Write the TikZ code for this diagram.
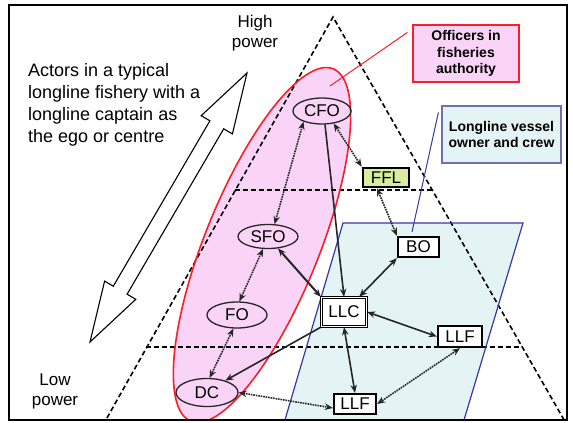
\documentclass[tikz,border=0pt]{standalone}
\usepackage{fontspec}
\setmainfont{Liberation Sans}
\usetikzlibrary{arrows.meta,shapes.geometric,calc}
\definecolor{pinkfill}{RGB}{249,212,246}
\definecolor{cyanfill}{RGB}{228,244,244}
\definecolor{vblue}{RGB}{55,55,165}
\definecolor{boxblue}{RGB}{110,110,185}
\definecolor{ffl}{RGB}{214,238,158}
\definecolor{redl}{RGB}{250,30,40}
\begin{document}
\begin{tikzpicture}[x=1pt,y=-1pt,
  >={Stealth[length=8pt,width=6.5pt]},
  lbl/.style={font=\fontsize{17}{20}\selectfont},
  actorE/.style={ellipse,draw=black!85,line width=1.3pt,inner sep=0pt,lbl},
  actorB/.style={rectangle,draw=black,line width=2.3pt,fill=white,inner sep=0pt,lbl},
  link/.style={draw=black!85,line width=1.6pt},
  dlink/.style={draw=black!85,line width=1.6pt,dash pattern=on 1.6pt off 0.9pt},
  tri/.style={draw=black,line width=1.6pt,dash pattern=on 5pt off 3pt},
  legbox/.style={rectangle,inner sep=0pt,align=center,font=\fontsize{14}{16.5}\selectfont\bfseries}
]
\useasboundingbox (0,0) rectangle (573,423);
\begin{scope}
  \clip (10,6) rectangle (566,419);
  \fill[cyanfill] (343,223) -- (523,223) -- (461,430) -- (282,430) -- cycle;
  \fill[pinkfill,rotate around={68:(262,245)}] (262,245) ellipse (190pt and 57pt);
  \draw[tri] (103,425) -- (333,17) -- (567,425);
  \draw[tri] (235,190) -- (432,190);
  \draw[tri] (146,347) -- (522,347);
  \draw[vblue,line width=1.2pt] (282,430) -- (343,223) -- (523,223) -- (461,430);
  \draw[redl,line width=1.6pt,rotate around={68:(262,245)}] (262,245) ellipse (190pt and 57pt);
\end{scope}
\draw[line width=2pt] (9,5) rectangle (567,420);
% big double arrow
\draw[line width=1.1pt,line join=miter] (247,73) -- (232.4,133.9) -- (223.7,128.8) -- (127.1,294.2) -- (135.8,299.3) -- (90,342) -- (104.6,281.1) -- (113.3,286.2) -- (209.9,120.8) -- (201.2,115.7) -- cycle;
% texts
\node[align=left,anchor=north west,inner sep=0pt,font=\fontsize{18}{22}\selectfont] (actors) at (28,63) {Actors in a typical\\longline fishery with a\\longline captain as\\the ego or centre};
\node[align=center,anchor=north,inner sep=0pt,lbl] (high) at (255,14.6) {High\\power};
\node[align=center,anchor=north,inner sep=0pt,font=\fontsize{17}{19.5}\selectfont] (low) at (55,374) {Low\\power};
% legend boxes
\node[legbox,draw=redl,line width=1.2pt,fill=pinkfill,minimum width=106pt,minimum height=57pt] (offbox) at (466,53.5) {Officers in\\fisheries\\authority};
\node[legbox,draw=boxblue,line width=1.2pt,fill=cyanfill,minimum width=119pt,minimum height=57pt] (vesbox) at (501.5,134.5) {Longline vessel\\owner and crew};
% actors
\node[actorE,minimum width=58pt,minimum height=26pt] (CFO) at (322,111) {CFO};
\node[actorB,fill=ffl,line width=2.6pt,minimum width=46pt,minimum height=19pt] (FFL) at (386,177.5) {FFL};
\node[actorE,minimum width=60pt,minimum height=24pt] (SFO) at (268,236.5) {SFO};
\node[actorB,minimum width=41pt,minimum height=20pt] (BO) at (418.5,247) {BO};
\node[actorB,line width=1.4pt,double=white,double distance=0.8pt,minimum width=45pt,minimum height=29pt] (LLC) at (344,312) {LLC};
\node[actorE,minimum width=60pt,minimum height=26pt] (FO) at (237,315) {FO};
\node[actorB,minimum width=44pt,minimum height=21pt] (LLFr) at (460,336.5) {LLF};
\node[actorE,minimum width=62pt,minimum height=28pt] (DC) at (207,392.5) {DC};
\node[actorB,minimum width=42pt,minimum height=20pt] (LLFb) at (355,404) {LLF};
% pointers
\draw[redl,line width=1pt] ([xshift=-5pt,yshift=-8pt]offbox.north west) -- (330,86) coordinate (offend);
\draw[vblue,line width=1pt] ([xshift=-3pt,yshift=-7pt]vesbox.north west) -- ([xshift=-6.5pt,yshift=4pt]BO.north);
% links
\draw[dlink,<->] (CFO.210) -- (SFO.62);
\draw[link,->] ([xshift=3pt]CFO.south) -- (LLC.north);
\draw[dlink,<->] (CFO.-47) -- (FFL.north west);
\draw[dlink,<->] ([xshift=-9pt]FFL.south) -- (BO.north west);
\draw[link,<->] (BO.south west) -- ([xshift=-8pt]LLC.north east);
\draw[link,<->,line width=2pt] (SFO.-50) -- (LLC.north west);
\draw[dlink,<->] (SFO.-112) -- (FO.80);
\draw[link,->] (LLC.south west) -- (DC.33);
\draw[dlink,<->] (FO.-105) -- (DC.80);
\draw[link,<->] (LLC.east) -- (LLFr.west);
\draw[link,<->] (LLC.south) -- (LLFb.north);
\draw[dlink,<->] (LLFr.south) -- (LLFb.east);
\draw[dlink,<->] (DC.east) -- ([yshift=-4pt]LLFb.west);
\end{tikzpicture}
\end{document}
